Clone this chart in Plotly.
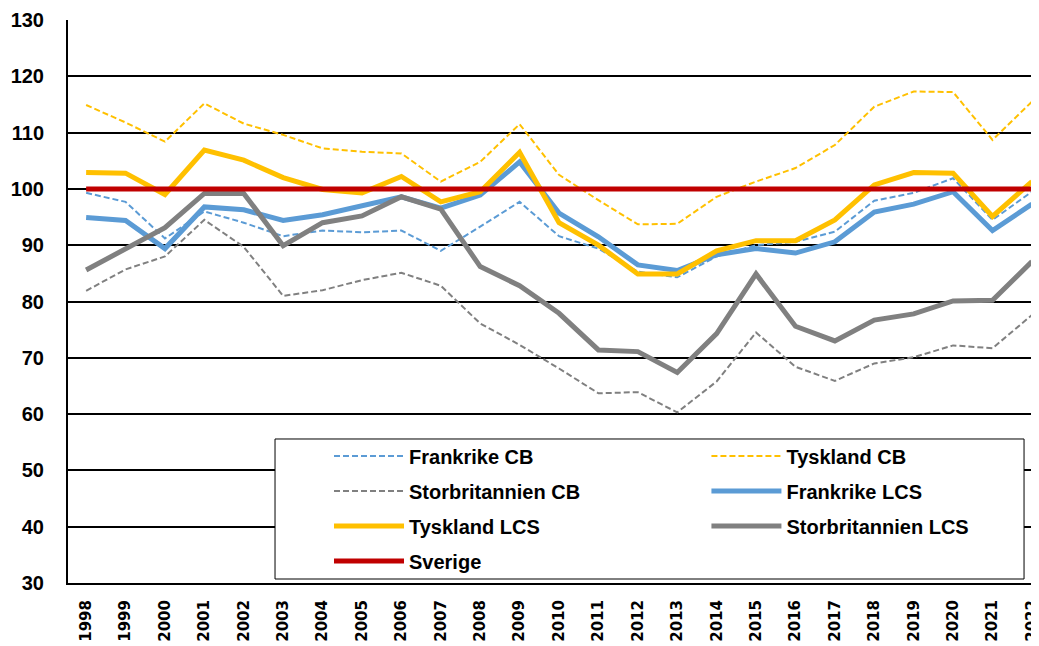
import plotly.graph_objects as go

years = [str(y) for y in range(1998, 2023)]

frankrike_cb = [99.3, 97.7, 91.2, 96.0, 94.0, 91.6, 92.6, 92.3, 92.6, 89.0, 93.3, 97.7, 91.6,
                89.4, 85.3, 84.3, 88.0, 90.0, 90.6, 92.4, 97.9, 99.3, 101.9, 94.5, 99.5]
tyskland_cb = [114.9, 111.8, 108.4, 115.2, 111.6, 109.6, 107.2, 106.6, 106.3, 101.3, 104.8, 111.5, 102.5,
               98.0, 93.7, 93.8, 98.6, 101.3, 103.7, 107.8, 114.6, 117.3, 117.2, 108.7, 115.5]
storbritannien_cb = [81.9, 85.7, 88.0, 94.5, 89.7, 81.0, 82.0, 83.8, 85.1, 82.8, 76.1, 72.3, 68.1,
                     63.7, 63.9, 60.3, 65.8, 74.5, 68.4, 65.9, 69.0, 70.1, 72.2, 71.7, 77.6]
frankrike_lcs = [94.9, 94.4, 89.4, 96.8, 96.3, 94.4, 95.4, 97.0, 98.6, 96.6, 98.9, 104.8, 95.7,
                 91.5, 86.5, 85.5, 88.3, 89.4, 88.6, 90.6, 95.9, 97.3, 99.5, 92.6, 97.3]
tyskland_lcs = [102.9, 102.8, 99.0, 106.9, 105.1, 102.0, 99.9, 99.3, 102.2, 97.7, 99.5, 106.5, 94.0,
                90.0, 84.9, 84.9, 89.0, 90.8, 90.8, 94.5, 100.7, 102.9, 102.8, 95.1, 101.3]
storbritannien_lcs = [85.6, 89.4, 93.1, 99.2, 99.2, 89.9, 94.0, 95.2, 98.6, 96.4, 86.2, 82.8, 77.9,
                      71.4, 71.1, 67.4, 74.3, 84.9, 75.6, 73.0, 76.7, 77.8, 80.1, 80.2, 87.1]
sverige = [100.0] * len(years)

y_ticks = list(range(30, 131, 10))

BLUE = "#5B9BD5"
YELLOW = "#FFC000"
GREY = "#808080"
RED = "#C00000"

# name, values, colour, width, dash, which legend column
series = [
    ("Frankrike CB", frankrike_cb, BLUE, 2, "6px,3px", "legend"),
    ("Tyskland CB", tyskland_cb, YELLOW, 2, "6px,3px", "legend2"),
    ("Storbritannien CB", storbritannien_cb, GREY, 2, "6px,3px", "legend"),
    ("Frankrike LCS", frankrike_lcs, BLUE, 5, "solid", "legend2"),
    ("Tyskland LCS", tyskland_lcs, YELLOW, 5, "solid", "legend"),
    ("Storbritannien LCS", storbritannien_lcs, GREY, 5, "solid", "legend2"),
    ("Sverige", sverige, RED, 5, "solid", "legend"),
]

fig = go.Figure()
for i, (name, vals, color, width, dash, leg) in enumerate(series):
    fig.add_trace(go.Scatter(
        x=years, y=vals, name=name, mode="lines",
        line=dict(color=color, width=width, dash=dash),
        legend=leg, legendgroup=f"g{i}",
    ))

# box around the two legend columns
fig.add_shape(type="rect", xref="paper", yref="paper",
              x0=0.2132, x1=0.9846, y0=0.0071, y1=0.2558,
              fillcolor="white", line=dict(color="black", width=1), layer="above")

legend_font = dict(family="Liberation Sans", size=20, color="black", weight="bold")
leg_common = dict(font=legend_font, bgcolor="rgba(0,0,0,0)", borderwidth=0,
                  itemwidth=70, tracegroupgap=6, yanchor="top", xanchor="left",
                  orientation="v")

# the page body adds an 8px offset, so the figure is 8px smaller than the window
fig.update_layout(
    width=1031, height=638,
    margin=dict(l=60, r=0, t=12, b=63),
    paper_bgcolor="white", plot_bgcolor="white",
    showlegend=True,
    legend=dict(x=0.2688, y=0.2603, **leg_common),
    legend2=dict(x=0.6575, y=0.2603, **leg_common),
)

fig.update_xaxes(
    type="category", range=[-0.46, 24.18], automargin=False,
    showgrid=False, showline=True, linecolor="black", linewidth=2,
    tickangle=-90, ticks="", ticklabelstandoff=9,
    tickfont=dict(family="DejaVu Sans", size=15, color="black", weight="bold"),
)
fig.update_yaxes(
    range=[30, 130], tickvals=y_ticks, automargin=False,
    showgrid=True, gridcolor="black", gridwidth=1.5,
    showline=True, linecolor="black", linewidth=2,
    zeroline=False, ticks="", ticklabelstandoff=18,
    tickfont=dict(family="Liberation Sans", size=20, color="black", weight="bold"),
)

fig.write_html("out.html")
